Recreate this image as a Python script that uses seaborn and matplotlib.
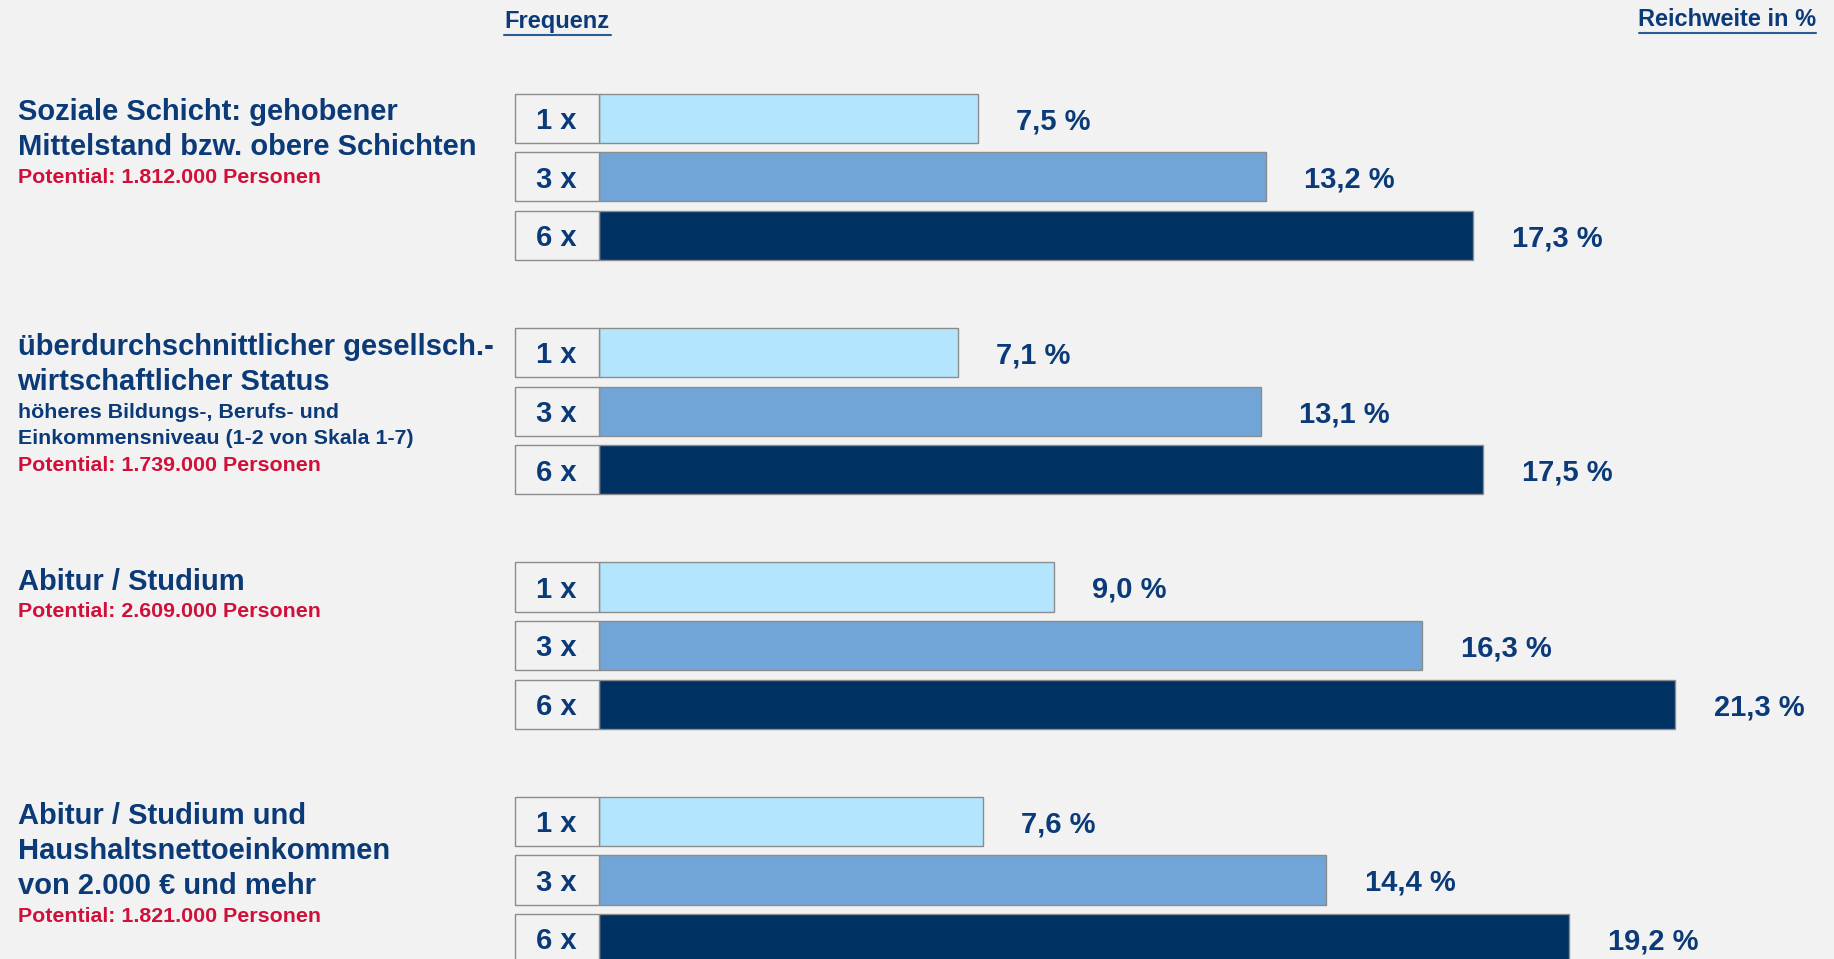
import numpy as np
import pandas as pd
import seaborn as sns
import matplotlib.pyplot as plt
from matplotlib.lines import Line2D

# ---- data ----
freq_labels = ['1 x', '3 x', '6 x']
reach_1x = [7.5, 7.1, 9.0, 7.6]
reach_3x = [13.2, 13.1, 16.3, 14.4]
reach_6x = [17.3, 17.5, 21.3, 19.2]

titles = [['Soziale Schicht: gehobener', 'Mittelstand bzw. obere Schichten'],
          ['überdurchschnittlicher gesellsch.-', 'wirtschaftlicher Status'],
          ['Abitur / Studium'],
          ['Abitur / Studium und', 'Haushaltsnettoeinkommen', 'von 2.000 € und mehr']]
notes = [[],
         ['höheres Bildungs-, Berufs- und', 'Einkommensniveau (1-2 von Skala 1-7)'],
         [],
         []]
potentials = ['Potential: 1.812.000 Personen', 'Potential: 1.739.000 Personen',
              'Potential: 2.609.000 Personen', 'Potential: 1.821.000 Personen']

# ---- style ----
BG = '#f2f2f2'
NAVY = '#0b3a78'
RED = '#d0103a'
EDGE = '#8c8c8c'
pal = {'1 x': '#b3e6fd', '3 x': '#71a5d7', '6 x': '#003163'}

sns.set_theme(style='white')
plt.rcParams['font.family'] = ['Liberation Sans', 'DejaVu Sans']
plt.rcParams['font.weight'] = 'bold'

W, H = 1834, 959
S = W / 1568.0  # reference drawn at 1568 px wide

rows = []
for g in range(len(titles)):
    for i, vals in enumerate([reach_1x, reach_3x, reach_6x]):
        rows.append({'pos': g * 4 + i, 'freq': freq_labels[i], 'reach': vals[g]})
df = pd.DataFrame(rows)

fig = plt.figure(figsize=(W / 100, H / 100), dpi=100, facecolor=BG)
ax = fig.add_axes([0, 0, 1, 1])
ax.set_facecolor(BG)

px_per_pct = 43.2 * S
x0 = 512 * S
box_w = 72 * S / px_per_pct

# value bars
sns.barplot(data=df, x='reach', y='pos', hue='freq', palette=pal, orient='h',
            native_scale=True, dodge=False, width=0.84, saturation=1,
            edgecolor=EDGE, linewidth=1, legend=False, ax=ax)
# frequency boxes on the left
df['box'] = -box_w
sns.barplot(data=df, x='box', y='pos', orient='h', native_scale=True,
            width=0.84, color=BG, saturation=1, edgecolor=EDGE, linewidth=1,
            legend=False, ax=ax)

ax.set_xlim(-x0 / px_per_pct, (W - x0) / px_per_pct)
pitch = 50.1 * S
c0 = 101 * S
ax.set_ylim((H - c0) / pitch, -c0 / pitch)
ax.axis('off')

off = 33 * S / px_per_pct
for _, r in df.iterrows():
    ax.text(-box_w / 2, r['pos'] + 0.05, r['freq'], ha='center', va='center',
            fontsize=21, color=NAVY, fontweight='bold')
    ax.text(r['reach'] + off, r['pos'] + 0.05, f"{r['reach']:.1f} %".replace('.', ','),
            ha='left', va='center', fontsize=21, color=NAVY, fontweight='bold')


def ftext(xp, yp, s, **kw):
    fig.text(xp * S / W, 1 - yp * S / H, s, va='center', fontweight='bold', **kw)


# left-hand group descriptions
for g in range(len(titles)):
    y = 101 + 200.6 * g - 5
    for line in titles[g]:
        ftext(15, y, line, fontsize=21, color=NAVY, ha='left')
        y += 30
    y -= 4
    for line in notes[g]:
        ftext(15, y, line, fontsize=15.4, color=NAVY, ha='left')
        y += 22.5
    ftext(15, y, potentials[g], fontsize=15.4, color=RED, ha='left')

# column headers
ftext(431, 18.5, 'Frequenz', fontsize=17, color=NAVY, ha='left')
ftext(1553, 16.5, 'Reichweite in %', fontsize=17, color=NAVY, ha='right')
for x1, x2, yy in [(431, 522, 29.5), (1401, 1553, 28.5)]:
    fig.add_artist(Line2D([x1 * S / W, x2 * S / W], [1 - yy * S / H] * 2,
                          color='#2a5c9a', lw=1.5))

fig.savefig('out.png', dpi=100, facecolor=BG)
